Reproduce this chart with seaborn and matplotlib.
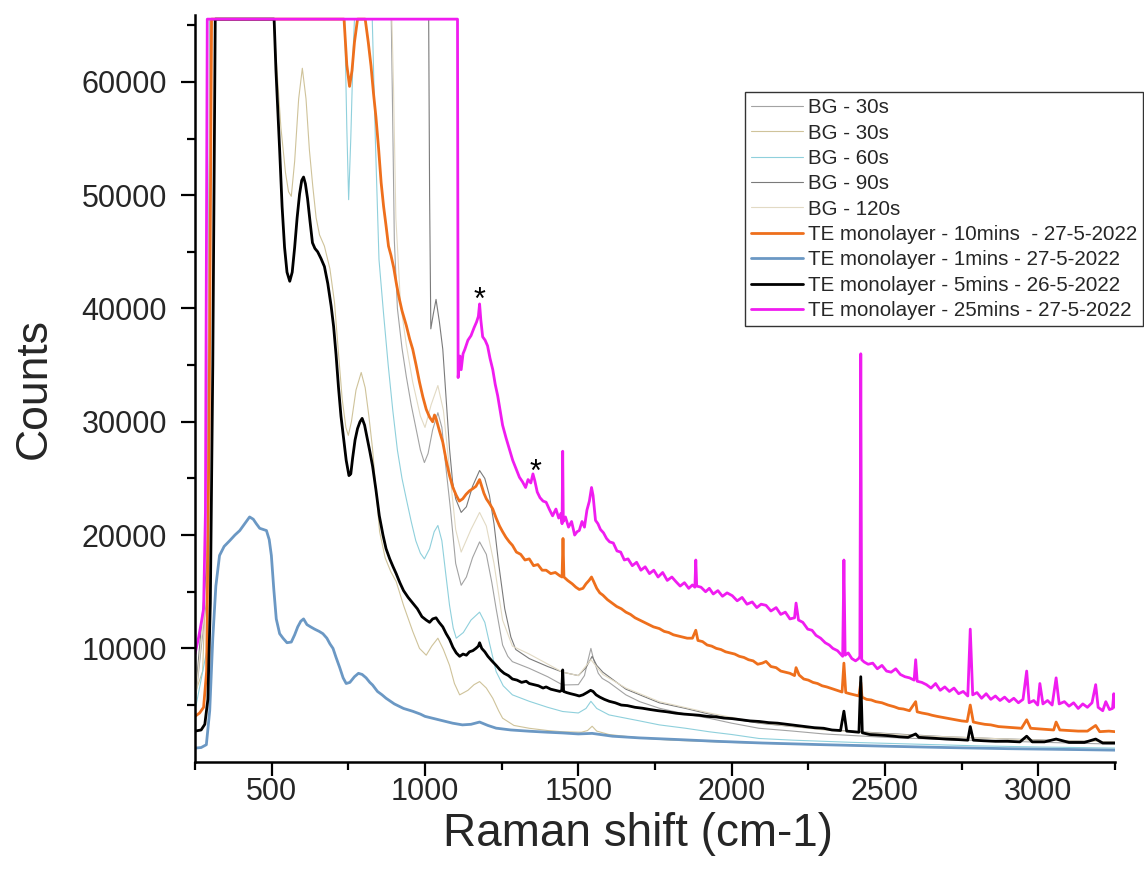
import numpy as np
import pandas as pd
import matplotlib
matplotlib.use("Agg")
import matplotlib.pyplot as plt
from matplotlib.ticker import FixedLocator, MultipleLocator
import seaborn as sns

SAT = 65535

# ---------------- data (Raman shift, counts) ----------------
bg30a_pts = [(250, 5000), (290, 15000), (300, SAT), (890, SAT), (894, 58000), (900, 46000), (910, 40000),
             (925, 36500), (939, 34000), (955, 31500), (970, 29500), (985, 27500), (998, 26400), (1010, 27200),
             (1025, 29300), (1042, 30800), (1055, 29500), (1068, 26000), (1083, 22300), (1100, 17500),
             (1118, 15570), (1135, 16300), (1155, 18000), (1178, 19400), (1200, 18300), (1218, 15800),
             (1232, 13500), (1253, 10300), (1270, 9300), (1285, 8830), (1340, 8240), (1400, 7500),
             (1449, 6770), (1500, 6800), (1520, 7600), (1532, 9000), (1541, 10000), (1550, 9000),
             (1565, 7800), (1578, 7350), (1600, 7000), (1655, 5900), (1700, 5300), (1764, 4720),
             (1850, 4200), (1927, 3830), (2000, 3400), (2089, 2950), (2200, 2700), (2300, 2450),
             (2500, 2150), (2700, 1950), (2900, 1800), (3100, 1650), (3250, 1550)]

bg30b_pts = [(250, 6000), (275, 8000), (290, 20000), (300, SAT), (505, SAT), (515, 62000), (530, 56000),
             (545, 52000), (555, 50300), (564, 49900), (575, 53000), (588, 58500), (600, 61200),
             (612, 58500), (623, 54000), (634, 50800), (645, 48000), (656, 46500), (672, 45500),
             (690, 43500), (705, 40500), (718, 36000), (730, 32000), (742, 29500), (750, 28800),
             (760, 30000), (775, 32800), (792, 34350), (805, 33000), (817, 30500), (829, 27600),
             (840, 24000), (852, 20300), (870, 18000), (888, 16800), (906, 15900), (930, 13800),
             (960, 11500), (982, 10000), (1004, 9400), (1022, 10200), (1042, 10900), (1060, 9900),
             (1080, 8500), (1096, 6900), (1113, 5900), (1140, 6300), (1160, 6800), (1178, 7070),
             (1200, 6500), (1221, 5600), (1240, 4500), (1253, 3840), (1290, 3200), (1340, 2950),
             (1400, 2750), (1449, 2640), (1510, 2600), (1530, 2750), (1545, 3130), (1560, 2700),
             (1600, 2400), (1700, 2100), (1800, 1900), (2000, 1700), (2200, 1550), (2500, 1350),
             (2800, 1200), (3000, 1100), (3250, 1000)]

bg60_pts = [(250, 4500), (290, 10000), (298, SAT), (738, SAT), (745, 56000), (751, 49600), (758, 55000),
            (766, 63000), (770, SAT), (828, SAT), (838, 55000), (850, 44300), (865, 39500), (880, 35000),
            (895, 31000), (910, 27500), (925, 25000), (939, 23200), (955, 21200), (970, 19500),
            (985, 18400), (998, 17900), (1015, 18800), (1030, 20300), (1042, 20850), (1055, 19500),
            (1068, 16500), (1080, 13800), (1092, 11800), (1102, 10900), (1125, 11400), (1150, 12500),
            (1178, 13200), (1195, 12300), (1210, 10500), (1232, 7950), (1255, 6700), (1285, 5900),
            (1340, 5330), (1400, 4800), (1449, 4430), (1500, 4300), (1525, 4700), (1541, 5330),
            (1560, 4700), (1600, 4130), (1700, 3600), (1764, 3250), (1850, 2950), (1927, 2640),
            (2000, 2400), (2089, 2050), (2200, 1900), (2400, 1700), (2600, 1550), (2800, 1400),
            (3000, 1300), (3250, 1200)]

bg90_pts = [(250, 5500), (290, 18000), (300, SAT), (1012, SAT), (1015, 50000), (1019, 38200),
            (1027, 39500), (1036, 40800), (1047, 38800), (1058, 36400), (1069, 32000), (1080, 27600),
            (1090, 24700), (1100, 23200), (1118, 22000), (1135, 22500), (1155, 24300), (1178, 25700),
            (1195, 25000), (1210, 23500), (1225, 21000), (1240, 17500), (1260, 13500), (1280, 11000),
            (1296, 9900), (1340, 9100), (1400, 8400), (1449, 7900), (1500, 7600), (1525, 8300),
            (1545, 9300), (1560, 8500), (1580, 7900), (1655, 6400), (1764, 5200), (1850, 4700),
            (1927, 4200), (2000, 3800), (2089, 3400), (2200, 3100), (2300, 2850), (2500, 2500),
            (2700, 2200), (2900, 2000), (3100, 1850), (3250, 1750)]

bg120_pts = [(250, 5200), (290, 16000), (300, SAT), (892, SAT), (897, 60000), (905, 48000), (920, 40500),
             (939, 36800), (960, 33500), (985, 30500), (1000, 29500), (1020, 31500), (1042, 33200),
             (1060, 31000), (1083, 25000), (1100, 20500), (1118, 18500), (1150, 20500), (1178, 22000),
             (1200, 20800), (1225, 17500), (1253, 12500), (1285, 10200), (1340, 9500), (1449, 7900),
             (1500, 7600), (1541, 9000), (1580, 7700), (1655, 6500), (1764, 5300), (1927, 4300),
             (2089, 3450), (2300, 2800), (2600, 2300), (3000, 1900), (3250, 1750)]

te10_pts = [(250, 4000), (265, 4300), (278, 4800), (288, 8000), (296, 30000), (304, SAT), (736, SAT),
            (745, 61500), (754, 59600), (762, 61000), (770, 63500), (780, SAT), (805, SAT), (815, 63500),
            (824, 61400), (832, 59000), (840, 56900), (849, 54000), (857, 51100), (865, 49000),
            (873, 47300), (881, 45500), (889, 44700), (898, 43600), (906, 42300), (915, 41000),
            (925, 39800), (939, 38500), (950, 37300), (960, 36400), (971, 35000), (982, 33500),
            (993, 32200), (1004, 31100), (1015, 30400), (1025, 30000), (1031, 30600), (1036, 30300),
            (1047, 29200), (1058, 28200), (1069, 26600), (1080, 25250), (1091, 24200), (1102, 23500),
            (1112, 23000), (1123, 23200), (1134, 23600), (1145, 23900), (1156, 24100), (1166, 24300),
            (1174, 24700), (1178, 24900), (1185, 24300), (1192, 23700), (1200, 23200), (1210, 22800),
            (1221, 22300), (1232, 21500), (1243, 20800), (1253, 20300), (1264, 19800), (1275, 19400),
            (1285, 19100), (1298, 18500), (1312, 18300), (1326, 17800), (1340, 17900), (1354, 17300),
            (1368, 17400), (1382, 16900), (1395, 16900), (1410, 16600), (1425, 16700), (1440, 16400),
            (1447, 16300), (1450, 19700), (1453, 16300), (1465, 16000), (1480, 15700), (1492, 15400),
            (1503, 15200), (1515, 15300), (1525, 15700), (1535, 16000), (1543, 16300), (1550, 15900),
            (1560, 15300), (1570, 14900), (1580, 14700), (1595, 14300), (1610, 14000), (1625, 13700),
            (1640, 13500), (1655, 13200), (1670, 13000), (1685, 12700), (1700, 12500), (1715, 12300),
            (1730, 12100), (1745, 11900), (1764, 11750), (1780, 11500), (1795, 11400), (1810, 11200),
            (1825, 11100), (1840, 11000), (1855, 10900), (1872, 10900), (1883, 11600), (1890, 10700),
            (1905, 10600), (1920, 10300), (1935, 10200), (1950, 10000), (1965, 9900), (1980, 9700),
            (1995, 9600), (2010, 9500), (2025, 9300), (2040, 9200), (2055, 9000), (2070, 8900),
            (2085, 8600), (2100, 8700), (2112, 8850), (2128, 8400), (2145, 8300), (2160, 8000),
            (2175, 7900), (2190, 7800), (2205, 7600), (2210, 8300), (2220, 7650), (2235, 7300),
            (2250, 7200), (2265, 7000), (2280, 6900), (2295, 6700), (2310, 6600), (2327, 6450),
            (2345, 6300), (2360, 6150), (2366, 8700), (2372, 6100), (2385, 6000), (2400, 5900),
            (2415, 5800), (2421, 7000), (2425, 5700), (2440, 5500), (2455, 5450), (2470, 5300),
            (2490, 5200), (2510, 5000), (2530, 4850), (2545, 4700), (2560, 4650), (2580, 4500),
            (2600, 5300), (2605, 4400), (2620, 4300), (2640, 4200), (2653, 4100), (2670, 4000),
            (2690, 3900), (2710, 3800), (2730, 3700), (2750, 3600), (2768, 3550), (2778, 5000),
            (2788, 3500), (2805, 3400), (2825, 3300), (2845, 3250), (2870, 3100), (2895, 3050),
            (2920, 3000), (2945, 2950), (2962, 3700), (2975, 2950), (3000, 2900), (3025, 2850),
            (3050, 2800), (3058, 3500), (3070, 2800), (3100, 2750), (3130, 2700), (3160, 2700),
            (3187, 3200), (3200, 2650), (3230, 2700), (3250, 2650)]

te1_pts = [(250, 1200), (270, 1250), (287, 1500), (298, 4500), (308, 10900), (318, 15500), (330, 18200),
           (345, 19000), (363, 19500), (380, 20000), (396, 20400), (412, 21000), (428, 21600),
           (440, 21400), (450, 21000), (461, 20600), (472, 20500), (483, 20400), (492, 19600),
           (499, 18200), (507, 15200), (515, 12600), (526, 11300), (537, 10900), (550, 10500),
           (564, 10560), (575, 11200), (585, 11900), (595, 12400), (604, 12600), (615, 12100),
           (627, 11900), (640, 11700), (655, 11500), (667, 11300), (680, 10900), (690, 10400),
           (700, 10000), (710, 9200), (722, 8300), (733, 7400), (743, 6900), (755, 7000), (770, 7500),
           (783, 7800), (795, 7700), (808, 7400), (820, 7000), (829, 6770), (845, 6200), (860, 5900),
           (873, 5600), (900, 5100), (930, 4700), (960, 4450), (985, 4200), (1000, 4000), (1030, 3800),
           (1060, 3600), (1090, 3400), (1122, 3250), (1150, 3300), (1178, 3500), (1205, 3200),
           (1232, 2960), (1280, 2800), (1340, 2690), (1400, 2600), (1448, 2540), (1500, 2450),
           (1545, 2500), (1611, 2250), (1700, 2100), (1829, 1950), (1950, 1800), (2100, 1650),
           (2300, 1500), (2500, 1370), (2700, 1250), (2900, 1150), (3100, 1080), (3250, 1020)]

te5_pts = [(250, 2700), (270, 2800), (282, 3300), (292, 5500), (300, 14000), (308, 35000), (316, SAT),
           (508, SAT), (514, 61000), (520, 57500), (526, 54000), (534, 49000), (542, 45400), (550, 43200),
           (559, 42400), (567, 43200), (575, 45400), (583, 48000), (591, 50100), (598, 51300),
           (604, 51600), (610, 51000), (617, 49700), (625, 47700), (633, 45800), (641, 45300),
           (650, 45000), (661, 44400), (672, 43700), (683, 42200), (694, 40200), (702, 38400),
           (710, 35900), (718, 33000), (726, 30500), (735, 28400), (743, 26600), (752, 25250),
           (758, 25400), (764, 26800), (772, 28400), (780, 29400), (788, 30000), (795, 30300),
           (803, 29700), (812, 28500), (820, 27400), (829, 26100), (840, 24000), (851, 21700),
           (863, 20000), (873, 18800), (885, 17900), (896, 17200), (906, 16600), (918, 15800),
           (930, 15100), (945, 14500), (960, 14000), (975, 13500), (990, 12800), (1004, 12500),
           (1015, 12300), (1025, 12600), (1036, 12700), (1046, 12300), (1058, 11900), (1069, 11300),
           (1080, 10800), (1091, 10100), (1102, 9600), (1113, 9300), (1124, 9500), (1135, 9400),
           (1145, 9700), (1156, 9800), (1166, 10000), (1174, 10200), (1178, 10500), (1185, 10000),
           (1195, 9700), (1205, 9300), (1218, 8900), (1232, 8500), (1245, 8100), (1258, 7800),
           (1272, 7600), (1285, 7300), (1300, 7200), (1315, 7000), (1330, 7100), (1340, 6900),
           (1355, 6800), (1370, 6700), (1385, 6500), (1395, 6600), (1410, 6400), (1425, 6300),
           (1440, 6200), (1446, 6300), (1449, 8100), (1452, 6200), (1462, 6100), (1475, 6000),
           (1490, 5900), (1503, 5800), (1515, 5900), (1528, 6100), (1540, 6300), (1548, 6200),
           (1558, 5900), (1570, 5700), (1585, 5500), (1601, 5330), (1620, 5200), (1640, 5000),
           (1660, 4950), (1685, 4800), (1709, 4720), (1735, 4600), (1760, 4500), (1790, 4400),
           (1818, 4280), (1845, 4200), (1870, 4150), (1894, 4100), (1920, 4000), (1950, 3950),
           (1975, 3850), (2002, 3800), (2030, 3700), (2060, 3600), (2090, 3550), (2120, 3450),
           (2150, 3400), (2180, 3300), (2210, 3200), (2240, 3100), (2270, 3000), (2300, 2950),
           (2327, 2800), (2355, 2750), (2366, 4460), (2375, 2700), (2395, 2650), (2415, 2600),
           (2421, 7500), (2426, 2550), (2450, 2400), (2480, 2350), (2510, 2300), (2545, 2200),
           (2575, 2150), (2600, 2450), (2610, 2150), (2653, 2080), (2700, 2000), (2740, 1950),
           (2770, 1900), (2778, 3100), (2788, 1900), (2820, 1850), (2860, 1800), (2900, 1800),
           (2940, 1750), (2962, 2250), (2980, 1750), (3020, 1750), (3058, 2000), (3100, 1700),
           (3150, 1700), (3187, 2000), (3210, 1650), (3250, 1650)]

te25_pts = [(250, 9500), (262, 11000), (272, 12500), (278, 13500), (284, 22000), (290, SAT), (1106, SAT),
            (1108, 33900), (1114, 35800), (1118, 34600), (1124, 36000), (1130, 36400), (1140, 37200),
            (1150, 37600), (1160, 38300), (1168, 38800), (1174, 39300), (1178, 40400), (1182, 39000),
            (1188, 37500), (1196, 37200), (1204, 36700), (1212, 35600), (1221, 34600), (1229, 33300),
            (1237, 32300), (1245, 31000), (1253, 29700), (1264, 28600), (1275, 27600), (1286, 26600),
            (1297, 25850), (1308, 25100), (1318, 24700), (1328, 24200), (1336, 24900), (1345, 24600),
            (1352, 25400), (1358, 24800), (1366, 23800), (1375, 23300), (1385, 23000), (1395, 22900),
            (1405, 22300), (1416, 21700), (1427, 22300), (1436, 21500), (1443, 21900), (1447, 21000),
            (1449, 27400), (1451, 21200), (1458, 21600), (1468, 20700), (1478, 21200), (1488, 20000),
            (1496, 20300), (1503, 20400), (1512, 21200), (1520, 20700), (1528, 22200), (1536, 23000),
            (1543, 24200), (1548, 23500), (1556, 21300), (1564, 21000), (1572, 20500), (1582, 20200),
            (1592, 19700), (1602, 19400), (1614, 19300), (1626, 18600), (1638, 18500), (1650, 17800),
            (1662, 17900), (1676, 17300), (1690, 17600), (1704, 16900), (1718, 17200), (1732, 16600),
            (1746, 16900), (1760, 16300), (1775, 16700), (1790, 16000), (1805, 16300), (1818, 15900),
            (1832, 15500), (1846, 15800), (1860, 15300), (1872, 15600), (1880, 15400), (1883, 17800),
            (1886, 15500), (1900, 15400), (1915, 15000), (1927, 15300), (1940, 14800), (1955, 15100),
            (1970, 14600), (1985, 14900), (2002, 14650), (2018, 14200), (2034, 14500), (2050, 13900),
            (2067, 14100), (2082, 13600), (2096, 13900), (2112, 13800), (2128, 13300), (2145, 13600),
            (2160, 13000), (2175, 13200), (2190, 12600), (2205, 12700), (2210, 14000), (2218, 12500),
            (2232, 12300), (2248, 11700), (2262, 11600), (2275, 11150), (2290, 10900), (2305, 10500),
            (2318, 10300), (2330, 10000), (2345, 9800), (2355, 9500), (2362, 9300), (2366, 17800),
            (2370, 9400), (2380, 9600), (2392, 9100), (2404, 8900), (2414, 9100), (2418, 9300),
            (2421, 36000), (2424, 9000), (2432, 8800), (2445, 8600), (2460, 8700), (2475, 8200),
            (2490, 8500), (2505, 8000), (2520, 7900), (2535, 8200), (2550, 7700), (2565, 7500),
            (2580, 7400), (2595, 7200), (2600, 9000), (2605, 7100), (2620, 7000), (2635, 6800),
            (2650, 6500), (2665, 6900), (2680, 6300), (2695, 6600), (2710, 6200), (2725, 6500),
            (2740, 6000), (2755, 6200), (2770, 5800), (2778, 11700), (2786, 5900), (2800, 6100),
            (2815, 5600), (2830, 6000), (2845, 5500), (2860, 5800), (2875, 5400), (2890, 5700),
            (2905, 5300), (2920, 5600), (2935, 5200), (2950, 5500), (2962, 8000), (2970, 5200),
            (2985, 5400), (2998, 5000), (3005, 6900), (3015, 5100), (3030, 5400), (3045, 5000),
            (3058, 7400), (3068, 5100), (3085, 5300), (3100, 4900), (3115, 5200), (3130, 4700),
            (3145, 5100), (3160, 4800), (3175, 5200), (3187, 6800), (3195, 4800), (3210, 4500),
            (3220, 5300), (3232, 4600), (3242, 4700), (3246, 6000), (3250, 4800)]

series_labels = ["BG - 30s", "BG - 30s", "BG - 60s", "BG - 90s", "BG - 120s",
                 "TE monolayer - 10mins  - 27-5-2022", "TE monolayer - 1mins - 27-5-2022",
                 "TE monolayer - 5mins - 26-5-2022", "TE monolayer - 25mins - 27-5-2022"]
series_points = [bg30a_pts, bg30b_pts, bg60_pts, bg90_pts, bg120_pts, te10_pts, te1_pts, te5_pts, te25_pts]
series_colors = ["#a3a3a3", "#cfc39a", "#8fd0dc", "#7a7a7a", "#e2dac4",
                 "#ee6f1c", "#6b98c4", "#000000", "#f01cf0"]
series_widths = [0.8, 0.8, 0.8, 0.8, 0.8, 2.0, 2.0, 2.0, 2.0]

star_x = [1179, 1359]
star_y = [40000, 24800]

# ---------------- plotting ----------------
sns.set_style("ticks")
plt.rcParams["font.family"] = ["Liberation Sans", "DejaVu Sans"]

fig = plt.figure(figsize=(11.44, 8.72), dpi=100)
ax = fig.add_axes([195 / 1144, 1 - 761.7 / 872, 920 / 1144, (761.7 - 15) / 872])

for lab, pts, col, lw in zip(series_labels, series_points, series_colors, series_widths):
    df = pd.DataFrame(pts, columns=["shift", "counts"])
    sns.lineplot(data=df, x="shift", y="counts", ax=ax, color=col, linewidth=lw,
                 label=lab, estimator=None, sort=False)

for sx, sy in zip(star_x, star_y):
    ax.text(sx, sy, "*", ha="center", va="baseline", fontsize=22, color="black")

ax.set_xlim(250, 3250)
ax.set_ylim(0, 65900)
ax.xaxis.set_major_locator(FixedLocator([500, 1000, 1500, 2000, 2500, 3000]))
ax.xaxis.set_minor_locator(MultipleLocator(250))
ax.yaxis.set_major_locator(FixedLocator([10000, 20000, 30000, 40000, 50000, 60000]))
ax.yaxis.set_minor_locator(FixedLocator([5000, 15000, 25000, 35000, 45000, 55000, 65000]))

ax.tick_params(axis="both", which="major", direction="out", length=10, width=1.6,
               labelsize=22, color="black")
ax.tick_params(axis="both", which="minor", direction="out", length=5.5, width=1.6, color="black")
ax.tick_params(axis="x", which="major", pad=1)
ax.tick_params(axis="y", which="major", pad=10)

sns.despine(ax=ax, top=True, right=True)
for sp in ["left", "bottom"]:
    ax.spines[sp].set_linewidth(1.8)
    ax.spines[sp].set_color("black")

ax.set_xlabel("Raman shift (cm-1)", fontsize=33)
ax.set_ylabel("Counts", fontsize=32)
ax.xaxis.set_label_coords(0.481, -0.068)
ax.yaxis.set_label_coords(-0.152, 0.5)

leg = ax.legend(loc="upper left", bbox_to_anchor=(745 / 1144, 1 - 92 / 872),
                bbox_transform=fig.transFigure, borderaxespad=0, fontsize=14.8,
                frameon=True, fancybox=False, framealpha=1, edgecolor="#333333",
                handlelength=2.5, handletextpad=0.25, labelspacing=0.31, borderpad=0.3)
leg.get_frame().set_linewidth(1.0)

fig.savefig("out.png", dpi=100)
